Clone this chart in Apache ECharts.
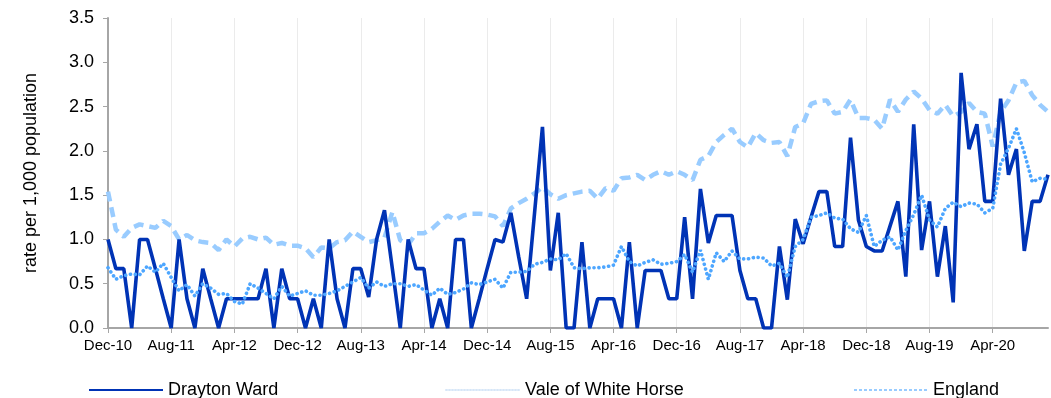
<!DOCTYPE html>
<html>
<head>
<meta charset="utf-8">
<script src="https://cdn.jsdelivr.net/npm/echarts@6/dist/echarts.min.js"></script>
<style>
  html, body { margin: 0; padding: 0; background: #ffffff; }
  #chart { width: 1051px; height: 398px; }
</style>
</head>
<body>
<div id="chart"></div>
<script>
// Monthly rate per 1,000 population, Dec 2010 – Nov 2020
const startYear = 2010, startMonth = 11, monthCount = 120;
const monthNames = ['Jan','Feb','Mar','Apr','May','Jun','Jul','Aug','Sep','Oct','Nov','Dec'];
const months = [];
for (let k = 0; k < monthCount; k++) {
  const m = (startMonth + k) % 12;
  const y = startYear + Math.floor((startMonth + k) / 12);
  months.push(monthNames[m] + '-' + String(y % 100).padStart(2, '0'));
}

const seriesNames = ['Drayton Ward', 'Vale of White Horse', 'England'];

const drayton = [
  1.0, 0.67, 0.67, 0, 1.0, 1.0, 0.67, 0.33, 0, 1.0,
  0.33, 0, 0.67, 0.33, 0, 0.33, 0.33, 0.33, 0.33, 0.33,
  0.67, 0, 0.67, 0.33, 0.33, 0, 0.33, 0, 1.0, 0.33,
  0, 0.67, 0.67, 0.35, 1.0, 1.33, 0.67, 0, 1.0, 0.67,
  0.67, 0, 0.33, 0, 1.0, 1.0, 0, 0.33, 0.67, 1.0,
  0.97, 1.3, 0.8, 0.33, 1.3, 2.27, 0.65, 1.3, 0, 0,
  0.97, 0, 0.33, 0.33, 0.33, 0, 0.97, 0, 0.65, 0.65,
  0.65, 0.33, 0.33, 1.25, 0.33, 1.57, 0.96, 1.27, 1.27, 1.27,
  0.65, 0.33, 0.33, 0, 0, 0.92, 0.32, 1.23, 0.95, 1.25,
  1.54, 1.54, 0.92, 0.92, 2.15, 1.22, 0.92, 0.87, 0.87, 1.15,
  1.43, 0.58, 2.3, 0.88, 1.43, 0.58, 1.15, 0.29, 2.88, 2.02,
  2.3, 1.43, 1.43, 2.59, 1.73, 2.02, 0.87, 1.43, 1.43, 1.73
];

const vale = [
  0.68, 0.55, 0.59, 0.61, 0.6, 0.7, 0.63, 0.73, 0.57, 0.42,
  0.49, 0.36, 0.5, 0.45, 0.38, 0.39, 0.3, 0.27, 0.5, 0.45,
  0.39, 0.33, 0.47, 0.36, 0.39, 0.42, 0.37, 0.37, 0.39, 0.42,
  0.47, 0.52, 0.57, 0.45, 0.52, 0.47, 0.5, 0.5, 0.47, 0.49,
  0.43, 0.37, 0.45, 0.38, 0.4, 0.44, 0.51, 0.49, 0.52, 0.55,
  0.45, 0.63, 0.63, 0.64, 0.72, 0.74, 0.78, 0.77, 0.84, 0.68,
  0.67, 0.68, 0.68, 0.69, 0.71, 0.92, 0.75, 0.7, 0.74, 0.77,
  0.72, 0.73, 0.75, 0.83, 0.63, 0.88, 0.55, 0.85, 0.75, 0.87,
  0.78, 0.78, 0.8, 0.79, 0.7, 0.73, 0.57, 0.92, 1.0, 1.25,
  1.27, 1.3, 1.24, 1.23, 1.12, 1.08, 1.27, 0.92, 0.99, 1.03,
  0.88, 1.1, 1.28, 1.5, 1.22, 1.14, 1.35, 1.42, 1.37, 1.41,
  1.4, 1.3, 1.35, 1.85, 2.03, 2.25, 1.98, 1.65, 1.69, 1.68
];

const england = [
  1.54, 1.11, 1.03, 1.13, 1.17, 1.15, 1.13, 1.21, 1.15, 1.0,
  1.05, 0.99, 0.97, 0.96, 0.88, 1.0, 0.92, 1.01, 1.03, 1.0,
  1.02, 0.94, 0.96, 0.93, 0.93, 0.9, 0.8, 0.91, 0.9, 0.97,
  0.99, 1.09, 1.03, 0.97, 0.99, 1.02, 1.31, 0.99, 0.94, 1.07,
  1.07, 1.12, 1.2, 1.27, 1.22, 1.27, 1.29, 1.29, 1.28, 1.26,
  1.15, 1.35, 1.41, 1.46, 1.52, 1.59, 1.51, 1.46, 1.5, 1.52,
  1.54, 1.55, 1.46, 1.58, 1.55, 1.69, 1.7, 1.73, 1.67, 1.73,
  1.77, 1.73, 1.77, 1.73, 1.67, 1.9, 1.94, 2.1, 2.18, 2.25,
  2.1, 2.04, 2.2, 2.12, 2.09, 2.1, 1.94, 2.27, 2.31, 2.53,
  2.56, 2.57, 2.42, 2.44, 2.58, 2.37, 2.37, 2.35, 2.25, 2.58,
  2.44, 2.58, 2.67, 2.59, 2.46, 2.42, 2.52, 2.39, 2.44, 2.54,
  2.44, 2.42, 2.05, 2.44, 2.57, 2.77, 2.79, 2.63, 2.52, 2.44
];

const FONT = '"Liberation Sans", Arial, sans-serif';
const AXIS_GREY = '#a6a6a6';
const C_WARD = '#0033b5';
const C_VALE = '#4da6ff';
const C_ENG = '#99ccff';

const chart = echarts.init(document.getElementById('chart'), null, { renderer: 'canvas' });

// one legend block per series so each can sit at its own position along the bottom
function legendAt(left, name, lineStyle) {
  return {
    show: true,
    left: left, top: 376,
    orient: 'horizontal',
    itemWidth: 74, itemHeight: 18, itemGap: 0,
    selectedMode: false,
    textStyle: { fontFamily: FONT, fontSize: 18, color: '#000000' },
    itemStyle: { color: 'rgba(0,0,0,0)', borderWidth: 0 },
    lineStyle: lineStyle,
    data: [name]
  };
}

chart.setOption({
  animation: false,
  backgroundColor: '#ffffff',
  grid: { left: 108, right: 3, top: 18, bottom: 70, containLabel: false },
  legend: [
    legendAt(83, seriesNames[0], { color: C_WARD, width: 2, type: 'solid' }),
    legendAt(440, seriesNames[1], { color: '#d6e6f7', width: 2, type: [1, 2] }),
    legendAt(848, seriesNames[2], { color: C_ENG, width: 2, type: [3, 2] })
  ],
  xAxis: {
    type: 'category',
    data: months,
    boundaryGap: false,
    axisLine: { lineStyle: { color: AXIS_GREY, width: 2 } },
    axisTick: { show: true, interval: 7, length: 5, lineStyle: { color: AXIS_GREY, width: 1 } },
    axisLabel: { interval: 7, margin: 10, fontFamily: FONT, fontSize: 15, color: '#000' },
    splitLine: { show: true, interval: 7, lineStyle: { color: '#ebebeb', width: 1 } }
  },
  yAxis: {
    type: 'value',
    min: 0, max: 3.5, interval: 0.5,
    name: 'rate per 1,000 population',
    nameLocation: 'middle',
    nameGap: 68,
    nameTextStyle: { fontFamily: FONT, fontSize: 18, color: '#000' },
    axisLine: { show: true, lineStyle: { color: AXIS_GREY, width: 2 } },
    axisTick: { show: true, length: 5, lineStyle: { color: AXIS_GREY, width: 1 } },
    axisLabel: {
      margin: 14, fontFamily: FONT, fontSize: 18, color: '#000',
      formatter: v => v.toFixed(1)
    },
    splitLine: { show: false }
  },
  series: [
    {
      name: seriesNames[0], type: 'line', data: drayton,
      symbol: 'none', z: 3,
      lineStyle: { color: C_WARD, width: 3.6 },
      itemStyle: { color: C_WARD }
    },
    {
      name: seriesNames[1], type: 'line', data: vale,
      symbol: 'none', z: 4,
      lineStyle: { color: C_VALE, width: 3.6, type: [0.1, 4.8], cap: 'round' },
      itemStyle: { color: C_VALE }
    },
    {
      name: seriesNames[2], type: 'line', data: england,
      symbol: 'none', z: 2,
      lineStyle: { color: C_ENG, width: 4.5, type: [10, 6], cap: 'butt' },
      itemStyle: { color: C_ENG }
    }
  ]
});
</script>
</body>
</html>
